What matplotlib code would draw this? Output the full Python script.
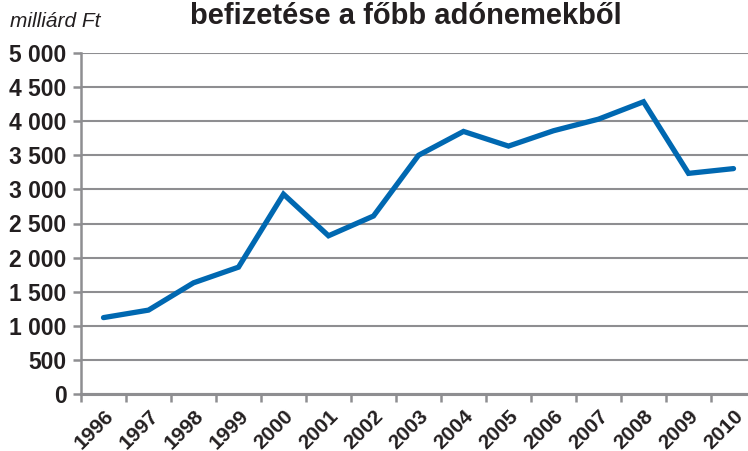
import matplotlib
matplotlib.use('Agg')
import matplotlib.pyplot as plt
import numpy as np

# data (milliárd Ft)
years = ['1996', '1997', '1998', '1999', '2000', '2001', '2002', '2003',
         '2004', '2005', '2006', '2007', '2008', '2009', '2010']
values = [1120, 1230, 1630, 1860, 2930, 2320, 2610, 3500,
          3850, 3635, 3860, 4030, 4285, 3235, 3305]
yticks = [0, 500, 1000, 1500, 2000, 2500, 3000, 3500, 4000, 4500, 5000]
ytick_labels = ['0', '500', '1 000', '1 500', '2 000', '2 500', '3 000',
                '3 500', '4 000', '4 500', '5 000']

plt.rcParams['font.family'] = ['Liberation Sans', 'DejaVu Sans']
TEXT = '#231f20'
GRID = '#8e8e91'
LINE = '#0068b1'

W, H = 748, 451
fig = plt.figure(figsize=(W / 100, H / 100), dpi=100)
# axes box in pixel coords: left 81, right 756 (cropped), top 53, bottom 394
ax = fig.add_axes([81 / W, (H - 394) / H, 675 / W, 341 / H])

x = np.arange(len(years))
ax.plot(x, values, color=LINE, linewidth=3.8, solid_capstyle='round',
        solid_joinstyle='miter', zorder=3)

ax.set_xlim(-0.5, len(years) - 0.5)
ax.set_ylim(0, 5000)
ax.set_yticks(yticks)
ax.set_yticklabels(ytick_labels)
ax.yaxis.grid(True, color=GRID, linewidth=1.5)
ax.set_axisbelow(True)

ax.set_xticks(np.arange(len(years) + 1) - 0.5)
ax.set_xticklabels([])
ax.set_xticks(x, minor=True)
ax.set_xticklabels(years, minor=True, rotation=45, ha='right', va='top',
                   rotation_mode='anchor', fontsize=15, fontweight='bold',
                   color=TEXT)
ax.tick_params(axis='x', which='minor', length=0, pad=9)
ax.tick_params(axis='x', which='major', length=6, width=1.8, color=GRID)
ax.tick_params(axis='y', length=6, width=1.8, color=GRID, pad=4.5,
               labelsize=16.5, labelcolor=TEXT)
for lab in ax.get_yticklabels():
    lab.set_fontweight('bold')

for side in ['top', 'right']:
    ax.spines[side].set_visible(False)
ax.spines['left'].set_color(GRID)
ax.spines['left'].set_linewidth(1.8)
ax.spines['bottom'].set_color(GRID)
ax.spines['bottom'].set_linewidth(2.2)

fig.text(10 / W, 1 - 27 / H, 'milliárd Ft', fontsize=15, style='italic',
         color=TEXT, ha='left', va='baseline')
fig.text(406 / W, 1 - 24 / H, 'befizetése a főbb adónemekből', fontsize=21,
         fontweight='bold', color=TEXT, ha='center', va='baseline')

fig.savefig('out.png', dpi=100)
